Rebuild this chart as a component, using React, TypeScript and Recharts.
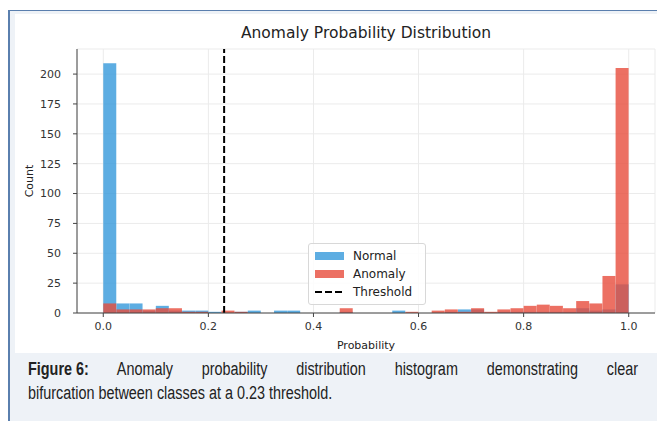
import { ComposedChart, Bar, XAxis, YAxis, CartesianGrid, ReferenceLine } from 'recharts';

// histogram bins (40 bins over 0..1)
const binCenters = [
  0.0125, 0.0375, 0.0625, 0.0875, 0.1125, 0.1375, 0.1625, 0.1875, 0.2125, 0.2375,
  0.2625, 0.2875, 0.3125, 0.3375, 0.3625, 0.3875, 0.4125, 0.4375, 0.4625, 0.4875,
  0.5125, 0.5375, 0.5625, 0.5875, 0.6125, 0.6375, 0.6625, 0.6875, 0.7125, 0.7375,
  0.7625, 0.7875, 0.8125, 0.8375, 0.8625, 0.8875, 0.9125, 0.9375, 0.9625, 0.9875,
];
const normalCounts = [
  209, 8, 8, 2, 6, 2, 2, 2, 1, 0,
  1, 2, 0, 2, 2, 0, 0, 0, 1, 0,
  0, 0, 2, 0, 0, 0, 1, 3, 3, 0,
  1, 1, 1, 1, 1, 1, 4, 2, 3, 24,
];
const anomalyCounts = [
  8, 3, 3, 3, 4, 4, 1, 1, 0, 2,
  1, 0, 0, 0, 0, 0, 0, 0, 4, 0,
  0, 0, 0, 1, 0, 2, 3, 1, 4, 1,
  3, 4, 6, 7, 6, 4, 10, 8, 31, 205,
];
const xTicks = [0, 0.2, 0.4, 0.6, 0.8, 1.0];
const yTicks = [0, 25, 50, 75, 100, 125, 150, 175, 200];
const THRESHOLD = 0.23;
const legendItems = [
  { name: 'Normal', kind: 'patch', color: '#3498db' },
  { name: 'Anomaly', kind: 'patch', color: '#e74c3c' },
  { name: 'Threshold', kind: 'line', color: '#000' },
];

const data = binCenters.map((p, i) => ({ p, normal: normalCounts[i], anomaly: anomalyCounts[i] }));

const BLUE = '#3498db';
const RED = '#e74c3c';
const FONT = '"DejaVu Sans", sans-serif';

function LegendBox() {
  return (
    <div style={{ border: '1px solid #d8d8d8', borderRadius: 3, background: 'rgba(255,255,255,0.85)', padding: '3px 6px', fontFamily: FONT, fontSize: 12, color: '#222' }}>
      {legendItems.map(r => (
        <div key={r.name} style={{ display: 'flex', alignItems: 'center', height: 18 }}>
          <svg width={29} height={10} style={{ marginRight: 9 }}>
            {r.kind === 'patch'
              ? <rect x={0} y={1} width={29} height={8} fill={r.color} fillOpacity={0.8} />
              : <line x1={0} y1={5} x2={29} y2={5} stroke={r.color} strokeWidth={2} strokeDasharray="7 3" />}
          </svg>
          <span>{r.name}</span>
        </div>
      ))}
    </div>
  );
}

export default function App() {
  return (
    <div style={{ position: 'absolute', left: 0, top: 0, width: 657, height: 421, background: '#fff', overflow: 'hidden' }}>
      {/* figure panel */}
      <div style={{ position: 'absolute', left: 8, top: 10, right: 0, bottom: 0, background: '#eef2f7', borderLeft: '2px solid #5a7fae', borderTop: '1.5px solid #5a7fae' }} />
      <div style={{ position: 'absolute', left: 15, top: 14, width: 642, height: 339, background: '#fff' }} />

      <div style={{ position: 'absolute', left: 77, top: 24, width: 578, textAlign: 'center', fontFamily: FONT, fontSize: 15.5, color: '#222' }}>
        Anomaly Probability Distribution
      </div>

      <div style={{ position: 'absolute', left: 0, top: 0 }}>
        <ComposedChart width={657} height={362} data={data} margin={{ top: 49, right: 2, bottom: 10, left: 20 }} barCategoryGap={0} barGap={0}>
          <CartesianGrid stroke="#ebebeb" xAxisId={0} />
          <XAxis
            dataKey="p"
            type="number"
            domain={[-0.05, 1.05]}
            ticks={xTicks}
            tickFormatter={(v: number) => v.toFixed(1)}
            allowDataOverflow
            height={39}
            tickSize={4}
            tickMargin={5}
            stroke="#444"
            tick={{ fill: '#333', fontSize: 11, fontFamily: FONT }}
            label={{ value: 'Probability', position: 'insideBottom', offset: 3, style: { fill: '#222', fontSize: 11, fontFamily: FONT } }}
          />
          <XAxis xAxisId="a" dataKey="p" type="number" domain={[-0.05, 1.05]} allowDataOverflow orientation="top" height={0} tick={false} tickLine={false} stroke="#444" />
          <YAxis
            domain={[0, 221]}
            ticks={yTicks}
            allowDataOverflow
            width={57}
            tickSize={4}
            tickMargin={12}
            stroke="#444"
            tick={{ fill: '#333', fontSize: 11, fontFamily: FONT }}
            label={{ value: 'Count', angle: -90, position: 'insideLeft', offset: 9, style: { textAnchor: 'middle', fill: '#222', fontSize: 11, fontFamily: FONT } }}
          />
          <YAxis yAxisId="r" orientation="right" width={0} tick={false} tickLine={false} stroke="#444" />
          <Bar dataKey="normal" name="Normal" fill={BLUE} fillOpacity={0.8} isAnimationActive={false} />
          <Bar dataKey="anomaly" name="Anomaly" xAxisId="a" fill={RED} fillOpacity={0.8} isAnimationActive={false} />
          <ReferenceLine x={THRESHOLD} stroke="#000" strokeWidth={2} strokeDasharray="7 3" ifOverflow="visible" />
        </ComposedChart>
      </div>

      <div style={{ position: 'absolute', left: 308, top: 243, width: 118 }}>
        <LegendBox />
      </div>

      <div style={{ position: 'absolute', left: 28, top: 357, width: 762.5, transform: 'scaleX(0.8)', transformOrigin: '0 0', fontFamily: '"Liberation Sans", Arial, sans-serif', fontSize: 18, color: '#222', lineHeight: '24px' }}>
        <div style={{ textAlign: 'justify', textAlignLast: 'justify' }}>
          <b style={{ display: 'inline-block' }}>Figure 6:</b> Anomaly probability distribution histogram demonstrating clear
        </div>
        <div>bifurcation between classes at a 0.23 threshold.</div>
      </div>
    </div>
  );
}
